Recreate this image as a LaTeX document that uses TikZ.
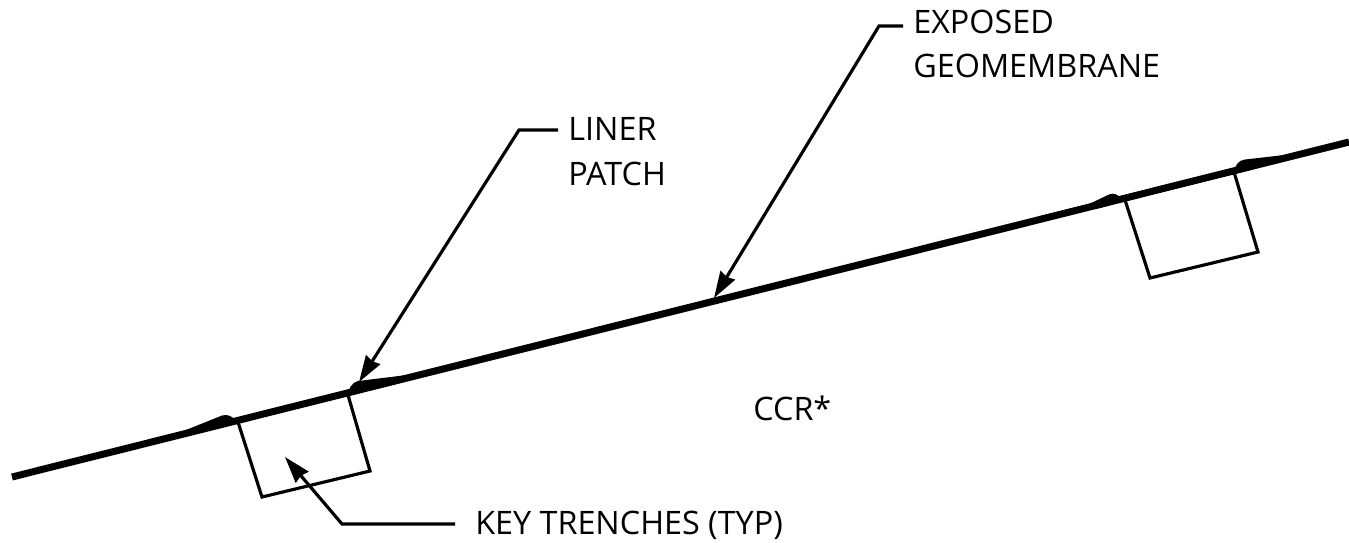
\documentclass[tikz,border=0pt]{standalone}
\usepackage{fontspec}
\setmainfont{Open Sans}
\usetikzlibrary{arrows.meta}
\newcommand{\Slope}{(12,477) -- (1349,142)}
\tikzset{
  lbl/.style={anchor=west,inner sep=0pt,align=left,font=\fontsize{18.4}{25.5}\selectfont},
  leader/.style={line width=1.8pt,-{Stealth[length=15pt,width=9.5pt,inset=1pt]},line join=miter},
  trench/.style={line width=1.8pt,line join=miter}
}
\begin{document}
\begin{tikzpicture}[x=0.02cm,y=-0.02cm]
\useasboundingbox (0,0) rectangle (1349,542);
% slope and liner
\draw[line width=4pt] \Slope;
% patches
\fill (170,435) -- (186,430) -- (222,415.5) .. controls (228,414) and (232,416) .. (236,421) -- (200,432) -- cycle;
\fill (347,396) .. controls (349,389) and (351,383) .. (358,381) -- (403,375.5) -- (412,376) -- (400,383) -- cycle;
\fill (1066,214) -- (1087,205) -- (1109,194.5) .. controls (1114,192.5) and (1118,194) .. (1124,201) -- (1100,208) -- cycle;
\fill (1233,174) .. controls (1235,166) and (1238,160) .. (1245,159.5) -- (1280,155.5) -- (1290,156) -- (1270,164) -- cycle;
% trenches
\draw[trench] (238,422) -- (262,497) -- (370,471) -- (348,395);
\draw[trench] (1125,200) -- (1150,278) -- (1258,252) -- (1234,172);
% labels
\node[lbl] (exposed) at (913,44) {EXPOSED\\GEOMEMBRANE};
\node[lbl] (patch) at (568,152) {LINER\\PATCH};
\node[lbl] (key) at (475,525) {KEY TRENCHES (TYP)};
\node[lbl] (ccr) at (753,408) {CCR*};
% leaders
\coordinate (expbend) at (879,26);
\coordinate (exptip) at (714,298);
\coordinate (patchbend) at (519,130);
\coordinate (patchtip) at (359,382);
\coordinate (keybend) at (342,524);
\coordinate (keytip) at (285,457);
\draw[leader] (903,26) -- (expbend) -- (exptip);
\draw[leader] (558,130) -- (patchbend) -- (patchtip);
\draw[leader] (455,524) -- (keybend) -- (keytip);
\end{tikzpicture}
\end{document}
